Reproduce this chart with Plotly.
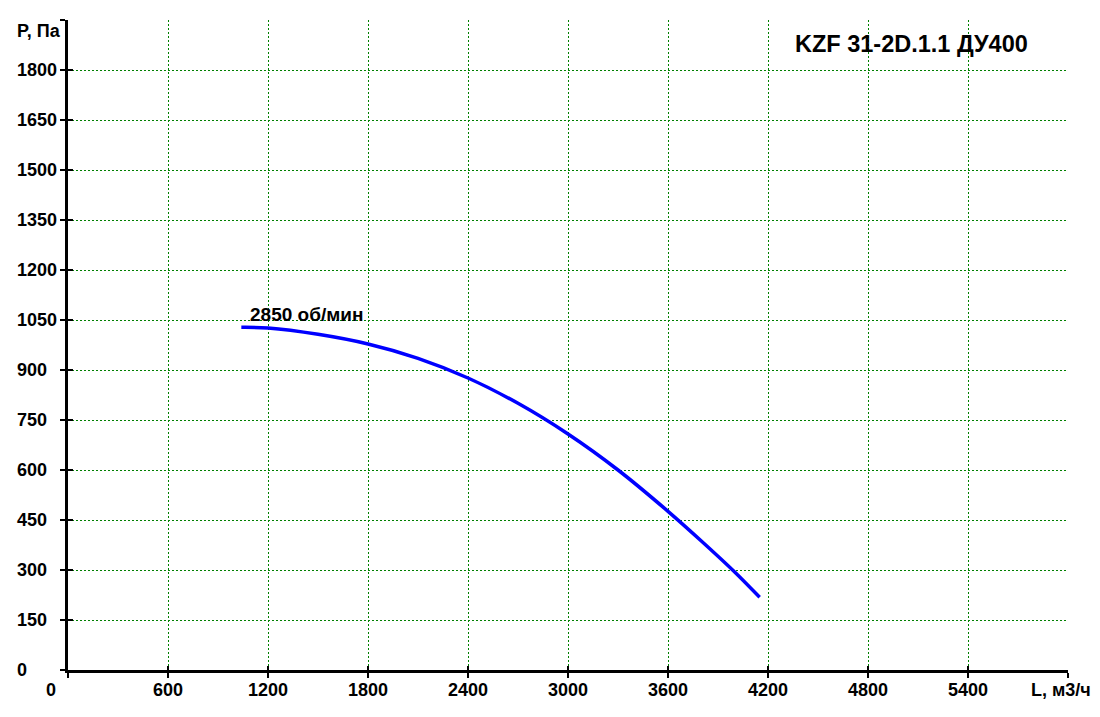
import plotly.graph_objects as go

# fan curve
flow = [1040, 1200, 1500, 1800, 2100, 2400, 2700, 3000, 3300, 3600, 3800, 4000, 4150]
pressure = [1028, 1026, 1007, 978, 935, 876, 800, 708, 600, 476, 387, 294, 218]

x_ticks = [0, 600, 1200, 1800, 2400, 3000, 3600, 4200, 4800, 5400, 6000]
x_labels = ["0", "600", "1200", "1800", "2400", "3000", "3600", "4200", "4800", "5400", "L, м3/ч"]
y_ticks = [0, 150, 300, 450, 600, 750, 900, 1050, 1200, 1350, 1500, 1650, 1800, 1950]
y_labels = ["0", "150", "300", "450", "600", "750", "900", "1050", "1200", "1350", "1500", "1650", "1800", "P, Па"]

title = "KZF 31-2D.1.1 ДУ400"
curve_name = "2850 об/мин"

FONT = "Liberation Sans, Arial, sans-serif"
GREEN = "#008000"

fig = go.Figure()
fig.add_trace(go.Scatter(x=flow, y=pressure, mode="lines", line_shape="spline",
                         line=dict(color="#0000ff", width=3.5, smoothing=1.0), hoverinfo="skip"))
# invisible copy so the overlay axes (inner half of the ticks) get drawn
fig.add_trace(go.Scatter(x=flow, y=pressure, mode="lines", xaxis="x2", yaxis="y2",
                         opacity=0, hoverinfo="skip"))

axis_common = dict(showticklabels=False, ticks="outside", ticklen=5, tickwidth=2,
                   tickcolor="black", showline=True, linecolor="black", linewidth=3,
                   showgrid=True, gridcolor=GREEN, gridwidth=1, griddash="2px,2px",
                   zeroline=False, tickmode="array", fixedrange=True)

fig.update_layout(
    width=1100, height=717,
    margin=dict(l=67, r=33, t=20, b=47),
    plot_bgcolor="white", paper_bgcolor="white",
    showlegend=False,
    xaxis=dict(range=[0, 6000], tickvals=x_ticks, **axis_common),
    yaxis=dict(range=[0, 1950], tickvals=y_ticks, **axis_common),
    xaxis2=dict(overlaying="x", anchor="y", range=[0, 6000], tickmode="array", tickvals=x_ticks,
                ticks="inside", ticklen=4, tickwidth=2, tickcolor="black",
                showticklabels=False, showgrid=False, showline=False, zeroline=False),
    yaxis2=dict(overlaying="y", anchor="x", range=[0, 1950], tickmode="array", tickvals=y_ticks,
                ticks="inside", ticklen=5, tickwidth=2, tickcolor="black",
                showticklabels=False, showgrid=False, showline=False, zeroline=False),
)

lab_font = dict(family=FONT, size=18, color="black", weight="bold")

# y tick labels are left aligned in the original
for v, t in zip(y_ticks, y_labels):
    fig.add_annotation(x=-0.0535, xref="paper", xanchor="left", y=v, yref="y",
                       yshift=-11 if t.startswith("P") else 0,
                       text=t, showarrow=False, font=lab_font)

for v, t in zip(x_ticks, x_labels):
    shift = -17 if v == 0 else (-7 if v == x_ticks[-1] else 0)
    fig.add_annotation(x=v, xref="x", xanchor="center", y=0, yref="paper", yanchor="middle",
                       yshift=-20, xshift=shift, text=t, showarrow=False, font=lab_font)

fig.add_annotation(x=0.725, xref="paper", xanchor="left", y=1950, yref="y", yanchor="middle",
                   yshift=-24, text=title, showarrow=False,
                   font=dict(family=FONT, size=23.5, color="black", weight="bold"))

fig.add_annotation(x=1080, xref="x", xanchor="left", y=1068, yref="y", yanchor="middle",
                   text=curve_name, showarrow=False,
                   font=dict(family=FONT, size=19, color="black", weight="bold"))

# drop the default body margin so the figure sits at the page corner
fig.write_html("out.html", config={"displayModeBar": False},
               post_script="document.body.style.margin='0 0 0 0.5px';")
